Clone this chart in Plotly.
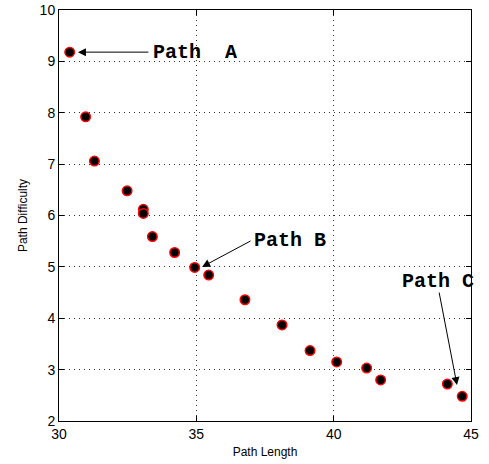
import plotly.graph_objects as go

path_length = [30.39, 30.97, 31.29, 32.48, 33.07, 33.07, 33.40, 34.21, 34.94, 35.45,
               36.77, 38.12, 39.14, 40.11, 41.20, 41.71, 44.14, 44.68]
path_difficulty = [9.18, 7.92, 7.06, 6.48, 6.12, 6.04, 5.59, 5.28, 4.99, 4.84,
                   4.36, 3.87, 3.37, 3.15, 3.03, 2.80, 2.72, 2.48]
x_ticks = [30, 35, 40, 45]
y_ticks = [2, 3, 4, 5, 6, 7, 8, 9, 10]

fig = go.Figure()
fig.add_trace(go.Scatter(
    x=path_length, y=path_difficulty, mode="markers",
    marker=dict(color="black", size=9.5, line=dict(color="red", width=1.5)),
    showlegend=False, cliponaxis=False,
))

ann_font = dict(family="Liberation Mono", size=20, color="black")
arrows = [
    # tip x, tip y, tail x, tail y
    (30.69, 9.18, 33.31, 9.18),
    (35.21, 5.00, 37.03, 5.52),
    (44.49, 2.70, 43.83, 4.53),
]
for tx, ty, sx, sy in arrows:
    fig.add_annotation(x=tx, y=ty, ax=sx, ay=sy, xref="x", yref="y", axref="x", ayref="y",
                       text="", showarrow=True, arrowhead=2, arrowsize=1.6, arrowwidth=1,
                       arrowcolor="black")
labels = [("<b>Path&nbsp;&nbsp;A</b>", 33.35, 9.18), ("<b>Path B</b>", 37.03, 5.52),
          ("<b>Path C</b>", 42.40, 4.71)]
for t, x, y in labels:
    fig.add_annotation(x=x, y=y, xref="x", yref="y", text=t, showarrow=False,
                       xanchor="left", yanchor="middle", font=ann_font)

axis_common = dict(showline=True, linecolor="black", linewidth=1, mirror="ticks",
                   ticks="inside", ticklen=5, tickcolor="black", automargin=False,
                   showgrid=True, gridcolor="#333", griddash="1px,4px", gridwidth=1,
                   zeroline=False, tickfont=dict(family="Liberation Sans", size=14, color="black"))
fig.update_xaxes(range=[30, 45], tickvals=x_ticks,
                 title=dict(text="Path Length", font=dict(family="Liberation Sans", size=12, color="black"), standoff=6),
                 **axis_common)
fig.update_yaxes(range=[2, 10], tickvals=y_ticks,
                 title=dict(text="Path Difficulty", font=dict(family="Liberation Sans", size=12, color="black"), standoff=9),
                 **axis_common)
fig.update_layout(width=489, height=464, margin=dict(l=59, r=18, t=10, b=43),
                  plot_bgcolor="white", paper_bgcolor="white")
fig.write_html("out.html", config={"displayModeBar": False},
               post_script="document.body.style.margin='0';")
